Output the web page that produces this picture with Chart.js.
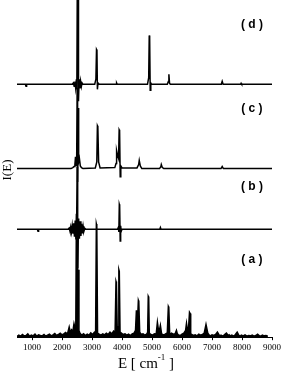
<!DOCTYPE html>
<html>
<head>
<meta charset="utf-8">
<script src="https://cdn.jsdelivr.net/npm/chart.js@4"></script>
<style>
  body { margin: 0; background: #fff; }
</style>
</head>
<body>
<canvas id="spectra" width="283" height="373"></canvas>
<script>
// x axis ticks (cm^-1)
const xTicks = [1000, 2000, 3000, 4000, 5000, 6000, 7000, 8000, 9000];

// spectrum (a) - bottom
const aE = [500, 560, 620, 680, 740, 800, 860, 920, 980, 1040, 1100, 1160, 1220, 1280, 1340, 1400,
  1460, 1520, 1580, 1640, 1700, 1760, 1820, 1880, 1940, 2000, 2060, 2120, 2180, 2240, 2280, 2320,
  2360, 2400, 2440, 2460, 2480, 2495, 2510, 2525, 2545, 2565, 2600, 2660, 2720, 2780, 2840, 2900,
  2960, 3020, 3080, 3120, 3145, 3160, 3185, 3240, 3300, 3360, 3420, 3480, 3540, 3600, 3660, 3720, 3770,
  3800, 3815, 3840, 3870, 3895, 3910, 3935, 3980, 4040, 4100, 4160, 4220, 4280, 4340, 4400, 4450, 4480, 4510,
  4545, 4560, 4590, 4640, 4700, 4760, 4820, 4855, 4875, 4890, 4910, 4960, 5020, 5080, 5140, 5180, 5220, 5250,
  5280, 5320, 5380, 5440, 5510, 5545, 5560, 5590, 5650, 5710, 5770, 5815, 5845, 5880, 5940, 6000, 6060,
  6120, 6150, 6180, 6220, 6250, 6275, 6290, 6320, 6380, 6440, 6500, 6560, 6620, 6680, 6740, 6800, 6860,
  6910, 6950, 7000, 7060, 7120, 7180, 7240, 7270, 7300, 7360, 7420, 7480, 7540, 7570, 7600, 7660,
  7720, 7780, 7840, 7900, 7940, 7980, 8040, 8100, 8160, 8220, 8280, 8340, 8400, 8460, 8520, 8580,
  8630, 8680, 8740, 8800, 8860, 8920, 9000];
const aI = [0.2, 0.6, 0.3, 0.8, 0.4, 0.5, 1.0, 0.3, 0.6, 0.4, 0.9, 0.3, 0.7, 0.5, 0.4, 0.8,
  0.3, 0.6, 0.9, 0.4, 0.7, 1.1, 0.5, 0.8, 1.2, 0.7, 1.0, 1.4, 0.9, 3.0, 1.4, 2.2,
  1.6, 4.0, 2.5, 3.0, 36.6, 6.0, 35.0, 8.0, 20.0, 2.0, 1.2, 0.6, 1.0, 0.5, 0.9, 0.6,
  1.3, 0.8, 1.5, 1.0, 33.6, 33.0, 1.2, 0.9, 0.6, 1.0, 0.7, 1.2, 0.8, 1.5, 1.0, 1.8, 1.5,
  16.5, 16.0, 2.5, 3.0, 20.0, 19.5, 1.5, 1.2, 0.8, 1.0, 0.6, 0.9, 0.5, 1.0, 1.2, 2.0, 8.0, 3.0,
  10.9, 10.5, 1.5, 0.8, 1.0, 0.6, 0.9, 1.4, 12.1, 11.8, 1.2, 0.8, 0.6, 1.0, 0.9, 4.4, 1.8, 2.2,
  3.5, 1.0, 0.7, 0.9, 1.3, 9.1, 8.8, 0.8, 1.2, 0.9, 1.0, 2.0, 1.0, 0.7, 0.5, 0.9,
  1.2, 2.0, 4.1, 2.2, 3.0, 7.4, 7.0, 0.6, 0.8, 0.5, 0.7, 0.4, 0.9, 0.6, 0.8, 1.2,
  3.8, 1.2, 0.6, 0.4, 0.7, 0.5, 0.8, 1.5, 0.6, 0.4, 0.6, 0.3, 0.8, 1.2, 0.5, 0.7,
  0.4, 0.6, 0.3, 0.8, 1.5, 0.5, 0.3, 0.6, 0.4, 0.7, 0.3, 0.5, 0.4, 0.6, 0.3, 0.5,
  0.9, 0.4, 0.3, 0.6, 0.4, 0.5, 0.3];

// spectrum (b)
const bE = [500, 1180, 1200, 1220, 2200, 2240, 2265, 2290, 2315, 2340, 2365, 2390, 2415, 2440,
  2465, 2490, 2505, 2515, 2530, 2555, 2580, 2605, 2630, 2655, 2680, 2705, 2730, 2760, 2800, 3850, 3880,
  3895, 3910, 3922, 3940, 3955, 3975, 4000, 5260, 5280, 5300, 9000];
const bI = [0, 0, -0.6, 0, 0, 0.4, -0.5, 0.7, -0.8, 1.1, -1.3, 1.8, -2.2, 2.6,
  -3.0, 4.0, 18.6, 18.0, -11.5, 3.2, -2.8, 2.4, -2.0, 1.6, -1.2, 0.9, -0.6, 0.3, 0, 0, 0.6,
  -0.8, 7.4, 7.0, -3.5, 1.0, -0.6, 0, 0, 0.5, 0, 0];

// spectrum (c)
const cE = [500, 2300, 2360, 2400, 2430, 2450, 2470, 2490, 2505, 2520, 2540, 2555, 2580, 2610,
  2650, 2700, 3110, 3160, 3180, 3195, 3220, 3270, 3760, 3800, 3820, 3850, 3885, 3905, 3920, 3940,
  3960, 4000, 4500, 4555, 4575, 4610, 4660, 5250, 5295, 5310, 5340, 5390, 7300, 7340, 7380, 9000];
const cI = [0, 0, 0.3, 0.6, 1.2, 3.5, 1.0, 4.0, 24.0, -4.0, 18.0, 2.0, 3.0, 0.8,
  0.3, 0, 0.2, 2.0, 12.7, 12.4, 2.0, 0.2, 0.3, 1.5, 5.3, 4.0, 3.0, 11.5, 11.2, -2.4,
  0.8, 0.2, 0.2, 1.2, 2.4, 0.8, 0, 0, 0.6, 1.2, 0.4, 0, 0, 0.6, 0, 0];

// spectrum (d) - top
const dE = [500, 780, 800, 820, 2340, 2380, 2405, 2430, 2455, 2480, 2495, 2510, 2520, 2535,
  2550, 2570, 2595, 2620, 2645, 2670, 2700, 3090, 3130, 3150, 3165, 3180, 3200, 3240, 3800, 3820,
  3840, 4850, 4890, 4908, 4922, 4940, 4960, 4990, 5510, 5545, 5563, 5585, 5610, 7310, 7340, 7370,
  7950, 7970, 7990, 9000];
const dI = [0, 0, -0.6, 0, 0, 0.4, -0.6, 0.8, -1.1, 1.5, -1.5, 30.0, 2.0, 30.0,
  -5.0, 1.5, -1.2, 0.9, -0.7, 0.4, 0, 0, 1.5, 10.3, 10.0, -1.5, 0.4, 0, 0, 0.4,
  0, 0, 2.0, 14.5, 13.8, -1.8, 0.4, 0, 0, 0.8, 3.0, 0.3, 0, 0, 0.9, 0,
  0, 0.3, 0, 0];

// vertical offsets of the stacked traces
const offsets = { a: 0, b: 32, c: 50, d: 75 };

function series(E, I, off) {
  return E.map((e, i) => ({ x: e, y: I[i] + off }));
}

function trace(E, I, off, fill) {
  return {
    data: series(E, I, off),
    borderColor: "#000",
    backgroundColor: "#000",
    borderWidth: 1.5,
    pointRadius: 0,
    showLine: true,
    fill: fill ? "origin" : false,
  };
}

// text that chart.js can't place the way the figure does
const annotations = {
  id: "annotations",
  afterDraw(chart) {
    const ctx = chart.ctx;
    const x = chart.scales.x;
    const y = chart.scales.y;
    ctx.save();
    ctx.fillStyle = "#000";
    ctx.textAlign = "center";
    ctx.textBaseline = "middle";
    ctx.font = "bold 12px 'Liberation Sans', Arial, sans-serif";
    const labelX = x.getPixelForValue(8330);
    ctx.fillText("( d )", labelX, y.getPixelForValue(92.6));
    ctx.fillText("( c )", labelX, y.getPixelForValue(67.8));
    ctx.fillText("( b )", labelX, y.getPixelForValue(44.5));
    ctx.fillText("( a )", labelX, y.getPixelForValue(23));

    // y title
    ctx.save();
    ctx.translate(8, 170);
    ctx.rotate(-Math.PI / 2);
    ctx.font = "13px 'Liberation Serif', 'Times New Roman', serif";
    ctx.fillText("I(E)", 0, 0);
    ctx.restore();

    // x title with superscript
    ctx.textAlign = "left";
    ctx.textBaseline = "alphabetic";
    const big = "15px 'Liberation Serif', 'Times New Roman', serif";
    const small = "9px 'Liberation Serif', 'Times New Roman', serif";
    ctx.font = big;
    const p1 = "E [ cm";
    const p2 = " ]";
    const w1 = ctx.measureText(p1).width;
    const w3 = ctx.measureText(p2).width;
    ctx.font = small;
    const w2 = ctx.measureText("-1").width;
    let tx = 146 - (w1 + w2 + w3) / 2;
    const base = 368;
    ctx.font = big;
    ctx.fillText(p1, tx, base);
    tx += w1;
    ctx.font = small;
    ctx.fillText("-1", tx, base - 8);
    tx += w2;
    ctx.font = big;
    ctx.fillText(p2, tx, base);
    ctx.restore();
  },
};

new Chart(document.getElementById("spectra"), {
  type: "scatter",
  data: {
    datasets: [
      trace(aE, aI, offsets.a, true),
      trace(bE, bI, offsets.b, false),
      trace(cE, cI, offsets.c, false),
      trace(dE, dI, offsets.d, false),
    ],
  },
  options: {
    responsive: false,
    animation: false,
    layout: { padding: { left: 17, right: 10, top: 0, bottom: 18 } },
    plugins: { legend: { display: false }, tooltip: { enabled: false } },
    scales: {
      x: {
        type: "linear",
        min: 500,
        max: 9000,
        afterBuildTicks: (scale) => {
          scale.ticks = xTicks.map((v) => ({ value: v }));
        },
        border: { display: true, color: "#000", width: 1 },
        grid: { drawOnChartArea: false, drawTicks: true, tickLength: 3, color: "#000" },
        ticks: {
          color: "#000",
          padding: 2,
          maxRotation: 0,
          font: { family: "'Liberation Serif', 'Times New Roman', serif", size: 9 },
          callback: (v) => String(v),
        },
      },
      y: {
        display: false,
        min: 0,
        max: 100,
      },
    },
  },
  plugins: [annotations],
});
</script>
</body>
</html>
